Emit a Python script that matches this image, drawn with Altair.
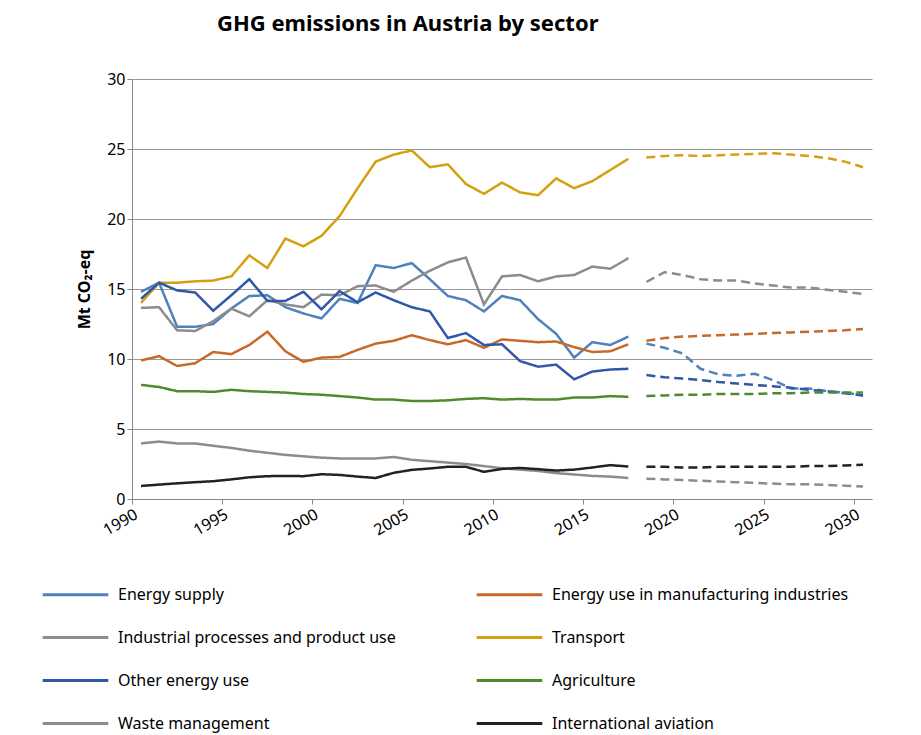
import altair as alt
import pandas as pd

years_hist = list(range(1990, 2018))
years_proj = list(range(2018, 2031))

sectors = ['Energy supply', 'Energy use in manufacturing industries',
           'Industrial processes and product use', 'Transport',
           'Other energy use', 'Agriculture', 'Waste management',
           'International aviation']
colors = ['#4f81bd', '#c8692a', '#8c8c8c', '#d4a010',
          '#2f58a8', '#4f8a2f', '#8c8c8c', '#222222']

energy_supply = [14.8, 15.45, 12.3, 12.3, 12.5, 13.6, 14.5, 14.55, 13.7, 13.25, 12.9, 14.3, 14.0, 16.7,
                 16.5, 16.85, 15.7, 14.5, 14.2, 13.4, 14.5, 14.2, 12.85, 11.8, 10.1, 11.2, 11.0, 11.6]
manufacturing = [9.9, 10.2, 9.5, 9.7, 10.5, 10.35, 11.0, 11.95, 10.55, 9.8, 10.1, 10.15, 10.65, 11.1,
                 11.3, 11.7, 11.35, 11.05, 11.35, 10.8, 11.4, 11.3, 11.2, 11.25, 10.85, 10.5, 10.55, 11.05]
industrial = [13.65, 13.7, 12.05, 12.0, 12.7, 13.6, 13.05, 14.2, 13.9, 13.7, 14.6, 14.55, 15.2, 15.25,
              14.8, 15.6, 16.3, 16.9, 17.25, 13.9, 15.9, 16.0, 15.55, 15.9, 16.0, 16.6, 16.45, 17.2]
transport = [14.0, 15.45, 15.45, 15.55, 15.6, 15.9, 17.4, 16.5, 18.6, 18.05, 18.8, 20.2, 22.2, 24.1,
             24.6, 24.9, 23.7, 23.9, 22.5, 21.8, 22.6, 21.9, 21.7, 22.9, 22.2, 22.7, 23.5, 24.3]
other_energy = [14.3, 15.45, 14.9, 14.75, 13.45, 14.55, 15.7, 14.15, 14.15, 14.8, 13.55, 14.85, 14.05, 14.75,
                14.2, 13.7, 13.4, 11.5, 11.85, 11.0, 11.05, 9.85, 9.45, 9.6, 8.55, 9.1, 9.25, 9.3]
agriculture = [8.15, 8.0, 7.7, 7.7, 7.65, 7.8, 7.7, 7.65, 7.6, 7.5, 7.45, 7.35, 7.25, 7.1,
               7.1, 7.0, 7.0, 7.05, 7.15, 7.2, 7.1, 7.15, 7.1, 7.1, 7.25, 7.25, 7.35, 7.3]
waste = [3.97, 4.1, 3.97, 3.97, 3.8, 3.65, 3.45, 3.3, 3.15, 3.05, 2.95, 2.9, 2.9, 2.9,
         3.0, 2.8, 2.7, 2.6, 2.5, 2.35, 2.2, 2.1, 2.0, 1.85, 1.75, 1.65, 1.6, 1.5]
aviation = [0.93, 1.03, 1.12, 1.2, 1.27, 1.4, 1.55, 1.63, 1.65, 1.63, 1.77, 1.72, 1.6, 1.5,
            1.87, 2.08, 2.18, 2.3, 2.3, 1.94, 2.15, 2.22, 2.13, 2.03, 2.1, 2.25, 2.42, 2.32]

energy_supply_p = [11.1, 10.8, 10.4, 9.3, 8.9, 8.8, 8.95, 8.5, 7.9, 7.9, 7.7, 7.6, 7.4]
manufacturing_p = [11.3, 11.5, 11.6, 11.65, 11.7, 11.75, 11.8, 11.85, 11.9, 11.95, 12.0, 12.05, 12.15]
industrial_p = [15.5, 16.2, 16.0, 15.7, 15.6, 15.6, 15.4, 15.25, 15.1, 15.1, 14.95, 14.8, 14.65]
transport_p = [24.4, 24.5, 24.55, 24.5, 24.55, 24.6, 24.65, 24.7, 24.6, 24.5, 24.35, 24.1, 23.7]
other_energy_p = [8.85, 8.7, 8.6, 8.5, 8.35, 8.25, 8.15, 8.05, 7.95, 7.8, 7.7, 7.55, 7.4]
agriculture_p = [7.35, 7.4, 7.45, 7.45, 7.5, 7.5, 7.5, 7.55, 7.55, 7.6, 7.6, 7.6, 7.6]
waste_p = [1.45, 1.4, 1.35, 1.3, 1.25, 1.2, 1.15, 1.1, 1.05, 1.05, 1.0, 0.95, 0.9]
aviation_p = [2.3, 2.3, 2.25, 2.25, 2.3, 2.3, 2.3, 2.3, 2.3, 2.35, 2.35, 2.4, 2.45]

hist = [energy_supply, manufacturing, industrial, transport, other_energy, agriculture, waste, aviation]
proj = [energy_supply_p, manufacturing_p, industrial_p, transport_p, other_energy_p, agriculture_p, waste_p, aviation_p]

rows = []
for s, h, p in zip(sectors, hist, proj):
    for y, v in zip(years_hist, h):
        rows.append({'sector': s, 'year': y + 0.5, 'value': v, 'kind': 'hist'})
    for y, v in zip(years_proj, p):
        rows.append({'sector': s, 'year': y + 0.5, 'value': v, 'kind': 'proj'})
df = pd.DataFrame(rows)

# legend fills column by column, so order the domain to read row by row
order = [0, 2, 4, 6, 1, 3, 5, 7]
leg_domain = [sectors[i] for i in order]
leg_colors = [colors[i] for i in order]

chart = alt.Chart(df).mark_line(strokeWidth=2.5).encode(
    x=alt.X('year:Q', scale=alt.Scale(domain=[1990, 2031], nice=False),
            axis=alt.Axis(values=[1990, 1995, 2000, 2005, 2010, 2015, 2020, 2025, 2030],
                          format='d', title=None, grid=False, labelAngle=-30,
                          labelFontSize=16, labelColor='#000', domainColor='#888',
                          tickColor='#888')),
    y=alt.Y('value:Q', scale=alt.Scale(domain=[0, 30]),
            axis=alt.Axis(values=[0, 5, 10, 15, 20, 25, 30], title='Mt CO₂-eq',
                          titleFontSize=16, titleFontWeight='bold', titleColor='#000',
                          labelFontSize=16, labelColor='#000', gridColor='#999',
                          domainColor='#888', tickColor='#888', titlePadding=14)),
    color=alt.Color('sector:N', scale=alt.Scale(domain=leg_domain, range=leg_colors),
                    legend=alt.Legend(title=None, orient='none', legendX=-91, legendY=481,
                                      columns=2, symbolType='stroke', symbolSize=4300,
                                      symbolStrokeWidth=3, labelFontSize=16, labelColor='#000',
                                      rowPadding=-28, columnPadding=74, labelLimit=400,
                                      labelOffset=8)),
    strokeDash=alt.StrokeDash('kind:N', scale=alt.Scale(domain=['hist', 'proj'],
                                                        range=[[1, 0], [9, 5]]), legend=None),
    detail='sector:N'
).properties(
    width=740, height=420, padding={'left': 33, 'top': 5, 'right': 5, 'bottom': 5},
    title=alt.TitleParams('GHG emissions in  Austria by sector', fontSize=22,
                          fontWeight='bold', anchor='start', offset=35, dx=176)
).configure(font='Noto Sans').configure_view(stroke=None)

chart.save("out.html", embed_options={"renderer": "svg", "actions": False})
